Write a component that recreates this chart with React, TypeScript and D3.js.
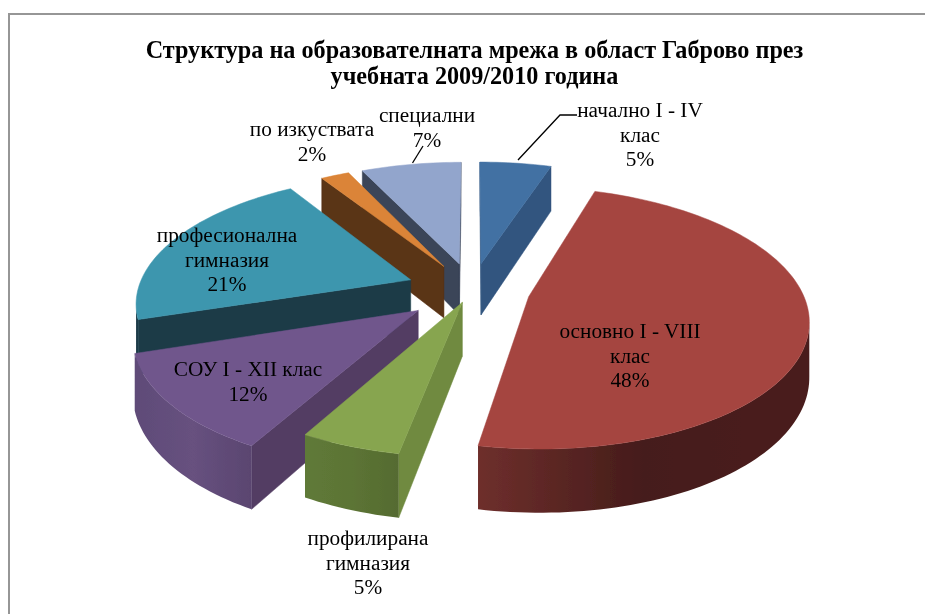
import React from "react";
import * as d3 from "d3";

// ---- data ----
const categories = ["начално I - IV клас", "основно I - VIII клас", "профилирана гимназия", "СОУ I - XII клас", "професионална гимназия", "по изкуствата", "специални"];
const shares = [5, 48, 5, 12, 21, 2, 7];
const explosions = [60, 58, 28, 68, 66, 60, 60];
const drawOrder = [0, 6, 5, 4, 1, 3, 2];
const titleLines = ["Структура на образователната мрежа в област Габрово през", "учебната 2009/2010 година"];

// ---- styles ----
const topColors = ["#4271a3", "#a54541", "#87a54f", "#70568c", "#3d96ae", "#db8437", "#92a5cc"];
const wallColors = ["#31547f", "#4a1d1b", "#6f8a3f", "#523c63", "#1a3a47", "#5a3417", "#3a4558"];
const sideLeft = ["#31547f", "#6e2f2c", "#5f7a38", "#5f4b78", "#1a3a47", "#5a3417", "#3a4558"];
const sideMid = ["#31547f", "#451c1a", "#5c7435", "#67517f", "#1a3a47", "#5a3417", "#3a4558"];
const sideRight = ["#31547f", "#4a1d1b", "#556b30", "#5a4570", "#1a3a47", "#5a3417", "#3a4558"];

const labelLines: string[][] = [["начално I - IV", "клас", "5%"], ["основно I - VIII", "клас", "48%"], ["профилирана", "гимназия", "5%"], ["СОУ I - XII клас", "12%"], ["професионална", "гимназия", "21%"], ["по изкуствата", "2%"], ["специални", "7%"]];
const labelX = [640, 630, 368, 248, 227, 312, 427];
const labelY = [117, 338, 545, 376, 242, 136, 122];
const leaderLines: [number, number][][] = [[[518, 160], [560, 115], [577, 115]], [[412.5, 163], [423, 146]]];

const R = 273;
const persp = 0.16;
const tilt = 0.46;
const depth = 53;
const vx = 472;
const cy = 290;

const project = (X: number, Z: number, h: number): [number, number] => {
  const s = 1 / (1 + (persp * Z) / R);
  return [vx + X * s, cy + (-tilt * Z + h) * s];
};

const arcs = d3.pie<number>().sort(null).value((d) => d)(shares);
const lineGen = d3.line();

function Slice({ i }: { i: number }) {
  const a = arcs[i];
  const a0 = a.startAngle;
  const a1 = a.endAngle;
  const mid = (a0 + a1) / 2;
  const ox = explosions[i] * Math.sin(mid);
  const oz = explosions[i] * Math.cos(mid);
  const pt = (th: number, h: number, r = R) => project(ox + r * Math.sin(th), oz + r * Math.cos(th), h);
  const n = Math.max(4, Math.ceil((a1 - a0) / 0.025));
  const ths = d3.range(n + 1).map((k) => a0 + ((a1 - a0) * k) / n);
  const top = [pt(a0, 0, 0), ...ths.map((t) => pt(t, 0))];
  const walls = [
    [pt(a0, 0, 0), pt(a0, 0), pt(a0, depth), pt(a0, depth, 0)],
    [pt(a1, 0), pt(a1, 0, 0), pt(a1, depth, 0), pt(a1, depth)],
  ] as [number, number][][];
  const visible = (p: [number, number][]) => d3.polygonArea(p) > 0;
  const seen = d3.range(n).filter((k) => visible([pt(ths[k], 0), pt(ths[k + 1], 0), pt(ths[k + 1], depth), pt(ths[k], depth)]));
  const outer: [number, number][] = seen.length
    ? [
        ...seen.map((k) => pt(ths[k], 0)),
        pt(ths[seen[seen.length - 1] + 1], 0),
        pt(ths[seen[seen.length - 1] + 1], depth),
        ...seen.slice().reverse().map((k) => pt(ths[k], depth)),
      ]
    : [];
  const xs = outer.length ? (d3.extent(outer, (p) => p[0]) as [number, number]) : [0, 1];
  return (
    <g>
      <defs>
        <linearGradient id={`side${i}`} gradientUnits="userSpaceOnUse" x1={xs[0]} x2={xs[1]} y1={0} y2={0}>
          <stop offset="0" stopColor={sideLeft[i]} />
          <stop offset="0.5" stopColor={sideMid[i]} />
          <stop offset="1" stopColor={sideRight[i]} />
        </linearGradient>
      </defs>
      {walls.filter(visible).map((w, k) => (
        <path key={k} d={lineGen(w) + "Z"} fill={wallColors[i]} stroke={wallColors[i]} strokeWidth={0.5} />
      ))}
      {outer.length > 0 && <path d={lineGen(outer) + "Z"} fill={`url(#side${i})`} />}
      <path d={lineGen(top as [number, number][]) + "Z"} fill={topColors[i]} stroke={topColors[i]} strokeWidth={0.5} />
    </g>
  );
}

export default function App() {
  return (
    <svg width={925} height={614} style={{ position: "absolute", left: 0, top: 0, display: "block", background: "#fff" }}>
      <defs>
        <filter id="soft" x="-5%" y="-5%" width="110%" height="110%">
          <feGaussianBlur stdDeviation={0.7} />
        </filter>
        <filter id="softText" x="-5%" y="-5%" width="110%" height="110%">
          <feGaussianBlur stdDeviation={0.3} />
        </filter>
      </defs>
      <path d="M925,14H9V614" fill="none" stroke="#969696" strokeWidth={2} />
      <g filter="url(#soft)">
        {drawOrder.map((i) => (
          <Slice key={categories[i]} i={i} />
        ))}
      </g>
      <g fontFamily="'Liberation Serif', serif" fill="#000" filter="url(#softText)">
        {titleLines.map((t, k) => (
          <text key={t} x={474.5} y={58 + k * 26} textAnchor="middle" fontWeight="bold" fontSize={24.2}>{t}</text>
        ))}
        {labelLines.map((lines, i) => (
          <text key={i} textAnchor="middle" fontSize={21.3}>
            {lines.map((l, k) => (
              <tspan key={k} x={labelX[i]} y={labelY[i] + k * 24.7}>{l}</tspan>
            ))}
          </text>
        ))}
      </g>
      {leaderLines.map((l, k) => (
        <path key={k} d={lineGen(l) as string} fill="none" stroke="#000" strokeWidth={1.3} />
      ))}
    </svg>
  );
}
